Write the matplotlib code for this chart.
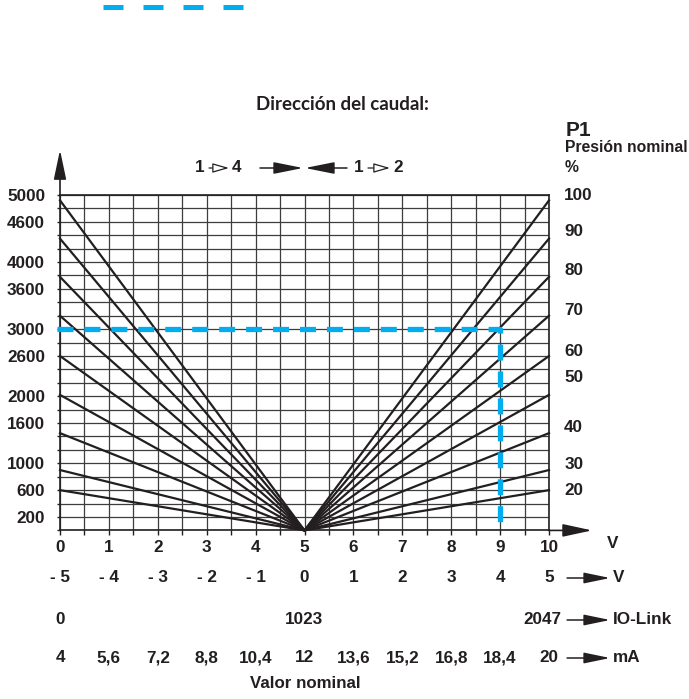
import numpy as np
import matplotlib
matplotlib.use("Agg")
import matplotlib.pyplot as plt
import matplotlib.transforms as mtransforms
from matplotlib.lines import Line2D

volt_ticks = [0, 1, 2, 3, 4, 5, 6, 7, 8, 9, 10]
volt_pm_labels = ["- 5", "- 4", "- 3", "- 2", "- 1", "0", "1", "2", "3", "4", "5"]
ma_labels = ["4", "5,6", "7,2", "8,8", "10,4", "12", "13,6", "15,2", "16,8", "18,4", "20"]
iolink_pos = [0, 5, 10]
iolink_labels = ["0", "1023", "2047"]
flow_ticks = [200, 600, 1000, 1600, 2000, 2600, 3000, 3600, 4000, 4600, 5000]
line_ends = [600, 900, 1450, 2020, 2600, 3200, 3780, 4350, 4920]
pressure_labels = ["20", "30", "40", "50", "60", "70", "80", "90", "100"]
pressure_pos = [602, 985, 1530, 2275, 2673, 3284, 3870, 4461, 5000]
center_volt = 5
example_flow = 3000
example_volt = 9

BLACK = "#231f20"
BLUE = "#00aeef"
FONT = "Liberation Sans"
FS = 12.3

fig = plt.figure(figsize=(6.89, 6.99), dpi=100)
ax = fig.add_axes([60 / 689, (699 - 530.4) / 699, 489 / 689, 335.4 / 699])
ax.set_xlim(0, 10)
ax.set_ylim(0, 5000)

# rejilla
ax.set_xticks(volt_ticks)
ax.set_xticks(np.arange(0, 10.01, 0.5), minor=True)
ax.set_yticks(flow_ticks)
ax.set_yticks(np.arange(0, 5001, 200), minor=True)
ax.grid(which="both", color="#3d3d3d", lw=0.9)
ax.set_axisbelow(True)
for s in ax.spines.values():
    s.set_color(BLACK)
    s.set_linewidth(1.2)

ax.set_xticklabels([str(v) for v in volt_ticks], fontfamily=FONT, fontweight="bold", fontsize=FS, color=BLACK)
ax.set_yticklabels([str(v) for v in flow_ticks], fontfamily=FONT, fontweight="bold", fontsize=FS, color=BLACK)
ax.tick_params(axis="x", which="both", direction="out", length=3.6, width=1, pad=3.2, colors=BLACK)
ax.tick_params(axis="y", which="both", direction="out", length=2.2, width=1, pad=8.5, colors=BLACK)

# curvas caudal / valor nominal
for v in line_ends:
    ax.plot([0, center_volt, 10], [v, 0, v], color=BLACK, lw=1.6,
            solid_joinstyle="round", clip_on=False, zorder=3)

# ejemplo (azul)
ax.plot([-0.06, example_volt, example_volt], [example_flow, example_flow, 0],
        color=BLUE, lw=3.8, dashes=(11.5 / 3.8, 7.9 / 3.8), clip_on=False, zorder=4)

# flechas de los ejes
ax.annotate("", xy=(0, 5671), xytext=(0, 4990), annotation_clip=False,
            arrowprops=dict(arrowstyle="-|>,head_length=18,head_width=3.8", mutation_scale=1,
                            lw=1.2, color=BLACK, shrinkA=0, shrinkB=0))
ax.annotate("", xy=(10.88, 0), xytext=(9.99, 0), annotation_clip=False,
            arrowprops=dict(arrowstyle="-|>,head_length=18,head_width=3.9", mutation_scale=1,
                            lw=1.2, color=BLACK, shrinkA=0, shrinkB=0))

# presion nominal a la derecha
for lab, pos in zip(pressure_labels, pressure_pos):
    ax.text(10.31, pos, lab, ha="left", va="center", fontfamily=FONT,
            fontweight="bold", fontsize=FS, color=BLACK, clip_on=False)

# filas inferiores
trans = mtransforms.blended_transform_factory(ax.transData, fig.transFigure)
txt = dict(fontfamily=FONT, fontweight="bold", fontsize=FS, color=BLACK, va="center")


def fy(y):
    return 1 - y / 699


for x, lab in zip(volt_ticks, volt_pm_labels):
    ax.text(x, fy(578), lab, ha="center", transform=trans, **txt)
for x, lab in zip(iolink_pos, iolink_labels):
    shift = -0.14 if x == 10 else 0
    ax.text(x + shift, fy(620), lab, ha="center", transform=trans, **txt)
for x, lab in zip(volt_ticks, ma_labels):
    ax.text(x, fy(658), lab, ha="center", transform=trans, **txt)

ax.text(11.3, fy(544), "V", ha="center", transform=trans, **txt)
for y, lab in [(578, "V"), (620, "IO-Link"), (658, "mA")]:
    ax.annotate("", xy=(11.25, fy(y)), xytext=(10.37, fy(y)), xycoords=trans, textcoords=trans,
                annotation_clip=False,
                arrowprops=dict(arrowstyle="-|>,head_length=16,head_width=3.3", mutation_scale=1,
                                lw=1.1, color=BLACK, shrinkA=0, shrinkB=0))
    ax.text(11.31, fy(y), lab, ha="left", transform=trans, **txt)

fig.text(305 / 689, fy(684), "Valor nominal", ha="center", va="center",
         fontfamily=FONT, fontweight="bold", fontsize=12.2, color=BLACK)

# textos superiores
fig.text(342 / 689, fy(104), "Dirección del caudal:", ha="center", va="center",
         fontfamily="Lato", fontweight="bold", fontsize=13.5, color=BLACK)
fig.text(566 / 689, fy(131), "P1", ha="left", va="center",
         fontfamily=FONT, fontweight="bold", fontsize=15, color=BLACK)
fig.text(565 / 689, fy(148), "Presión nominal", ha="left", va="center",
         fontfamily=FONT, fontweight="bold", fontsize=11.3, color=BLACK)
fig.text(565 / 689, fy(168), "%", ha="left", va="center",
         fontfamily=FONT, fontweight="bold", fontsize=11.3, color=BLACK)

# 1 -> 4   ->  <-   1 -> 2
ftxt = dict(fontfamily=FONT, fontweight="bold", fontsize=FS, color=BLACK, ha="center", va="center")
yb = 699 - 168
for x, lab in [(200, "1"), (237, "4"), (359, "1"), (398, "2")]:
    fig.text(x / 689, fy(168), lab, **ftxt)


def farrow(x0, x1, hl, hw, fc, lw):
    fig.add_artist(plt.Annotation("", xy=(x1, yb), xytext=(x0, yb), xycoords="figure pixels",
                                  arrowprops=dict(arrowstyle=f"-|>,head_length={hl},head_width={hw}",
                                                  mutation_scale=1, lw=lw, fc=fc, ec=BLACK,
                                                  shrinkA=0, shrinkB=0)))


farrow(209, 229, 10, 2.9, "white", 0.9)
farrow(368, 390, 10, 2.9, "white", 0.9)
farrow(260, 303, 18, 3.6, BLACK, 1.1)
farrow(347, 305, 18, 3.6, BLACK, 1.1)

# muestra de linea discontinua arriba
fig.add_artist(Line2D([103 / 689, 244 / 689], [fy(6.5), fy(6.5)], color=BLUE, lw=3.6,
                      dashes=(14.4 / 3.6, 14.4 / 3.6)))

fig.savefig("out.png", dpi=100)
